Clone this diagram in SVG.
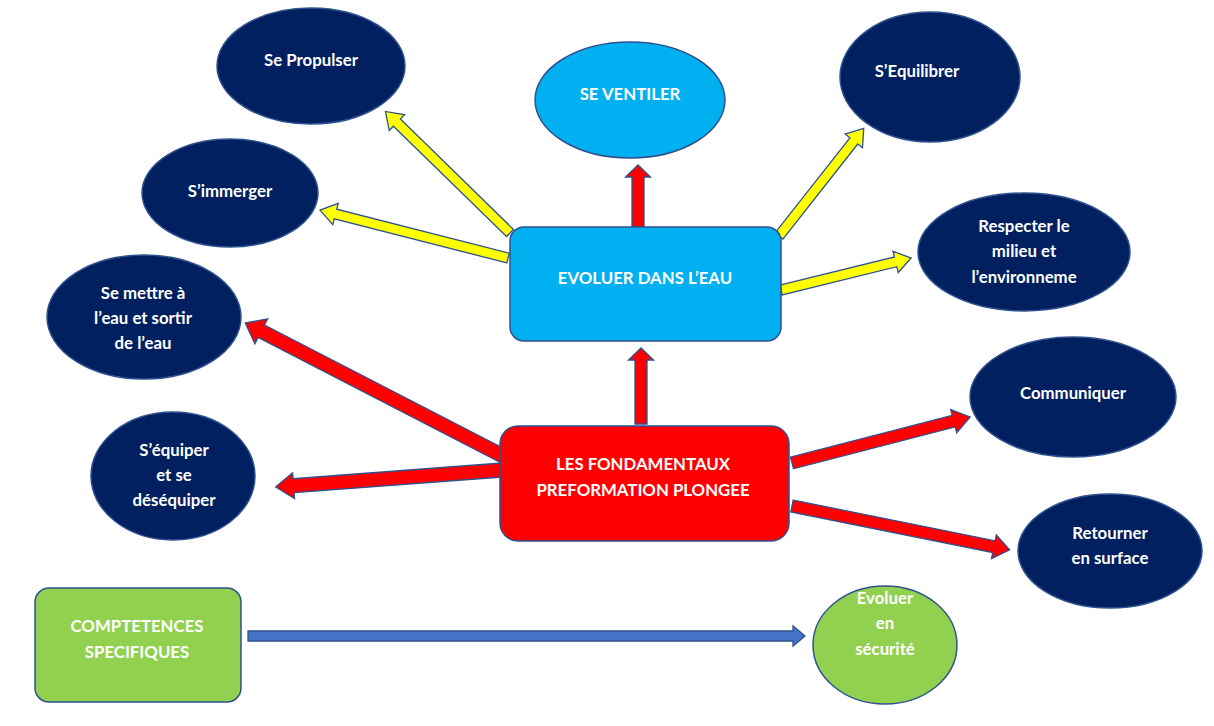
<svg xmlns="http://www.w3.org/2000/svg" width="1214" height="726" viewBox="0 0 1214 726">
<style>
text{font-family:Lato,"Open Sans","Liberation Sans",sans-serif;font-weight:bold;font-size:16.8px;fill:#fff;text-anchor:middle}
.navy{fill:#002060;stroke:#2F528F;stroke-width:1.5}
.lb{fill:#00B0F0;stroke:#2F528F;stroke-width:1.5}
.red{fill:#FF0000;stroke:#2F528F;stroke-width:1.5}
.grn{fill:#92D050;stroke:#2F528F;stroke-width:1.5}
.ay{fill:#FFFF00;stroke:#2F528F;stroke-width:1.3}
.ar{fill:#FF0000;stroke:#2F528F;stroke-width:1.3}
.ab{fill:#4472C4;stroke:#2F528F;stroke-width:1.3}
</style>
<rect width="1214" height="726" fill="#fff"/>
<g id="connectors">
<polygon class="ay" transform="translate(510,233) rotate(224.3)" points="0,-5 158,-5 158,-11 174,0 158,11 158,5 0,5"/>
<polygon class="ay" transform="translate(508,258) rotate(194.3)" points="0,-5 178,-5 178,-11 194,0 178,11 178,5 0,5"/>
<polygon class="ay" transform="translate(779,236) rotate(-51.8)" points="0,-5 121,-5 121,-11 137,0 121,11 121,5 0,5"/>
<polygon class="ay" transform="translate(781,290) rotate(-13.8)" points="0,-5 118,-5 118,-11 134,0 118,11 118,5 0,5"/>
<polygon class="ar" transform="translate(638,227) rotate(-90)" points="0,-6 50,-6 50,-12.5 62,0 50,12.5 50,6 0,6"/>
<polygon class="ar" transform="translate(641,424) rotate(-90)" points="0,-6 64,-6 64,-12.5 76,0 64,12.5 64,6 0,6"/>
<polygon class="ar" transform="translate(503,456) rotate(207.3)" points="0,-7 272,-7 272,-14 290,0 272,14 272,7 0,7"/>
<polygon class="ar" transform="translate(502,470) rotate(175.7)" points="0,-7 209,-7 209,-13 227,0 209,13 209,7 0,7"/>
<polygon class="ar" transform="translate(792,463) rotate(-14.5)" points="0,-6 167,-6 167,-12 184,0 167,12 167,6 0,6"/>
<polygon class="ar" transform="translate(792,506) rotate(11.4)" points="0,-6 206,-6 206,-12 222,0 206,12 206,6 0,6"/>
<polygon class="ab" transform="translate(248,636)" points="0,-5 545,-5 545,-10 557,0 545,10 545,5 0,5"/>
</g>
<g id="evoluer-eau"><rect class="lb" x="510" y="227" width="271" height="114" rx="14"/><text x="645" y="284">EVOLUER DANS L’EAU</text></g>
<g id="fondamentaux"><rect class="red" x="500" y="426" width="289" height="115" rx="18"/><text x="643" y="470">LES FONDAMENTAUX</text><text x="643" y="496">PREFORMATION PLONGEE</text></g>
<g id="competences"><rect class="grn" x="35" y="588" width="206" height="114" rx="14"/><text x="137" y="632">COMPTETENCES</text><text x="137" y="658">SPECIFIQUES</text></g>
<g id="se-propulser"><ellipse class="navy" cx="311" cy="66" rx="94" ry="58"/><text x="311" y="66">Se Propulser</text></g>
<g id="se-ventiler"><ellipse class="lb" cx="630" cy="100" rx="95" ry="58"/><text x="630" y="100">SE VENTILER</text></g>
<g id="s-equilibrer"><ellipse class="navy" cx="930" cy="77" rx="90" ry="65"/><text x="917" y="77">S’Equilibrer</text></g>
<g id="s-immerger"><ellipse class="navy" cx="230" cy="193" rx="88" ry="54"/><text x="230" y="197">S’immerger</text></g>
<g id="respecter"><ellipse class="navy" cx="1024" cy="252" rx="106" ry="59"/><text x="1024" y="232">Respecter le</text><text x="1024" y="257">milieu et</text><text x="1024" y="283">l’environneme</text></g>
<g id="se-mettre"><ellipse class="navy" cx="144" cy="317" rx="97" ry="62"/><text x="143" y="299">Se mettre à</text><text x="143" y="324">l’eau et sortir</text><text x="143" y="349">de l’eau</text></g>
<g id="communiquer"><ellipse class="navy" cx="1073" cy="397" rx="103" ry="60"/><text x="1073" y="399">Communiquer</text></g>
<g id="s-equiper"><ellipse class="navy" cx="173" cy="476" rx="82" ry="64"/><text x="174" y="456">S’équiper</text><text x="174" y="481">et se</text><text x="174" y="506">déséquiper</text></g>
<g id="retourner"><ellipse class="navy" cx="1110" cy="551" rx="92" ry="57"/><text x="1110" y="539">Retourner</text><text x="1110" y="564">en surface</text></g>
<g id="evoluer-securite"><ellipse class="grn" cx="885" cy="645" rx="72" ry="59"/><text x="885" y="604">Evoluer</text><text x="885" y="629">en</text><text x="885" y="655">sécurité</text></g>
</svg>
